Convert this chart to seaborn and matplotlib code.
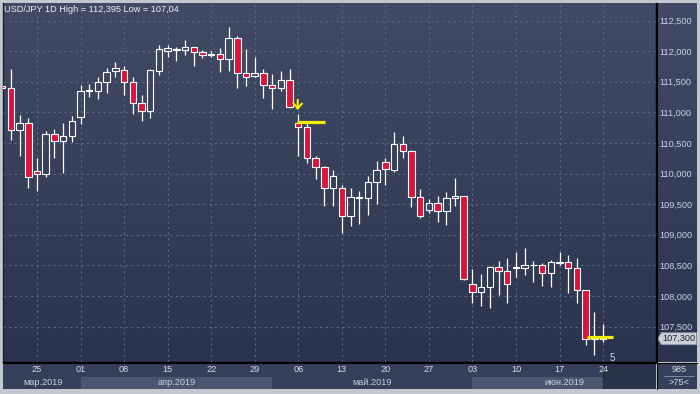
import numpy as np
import pandas as pd
import matplotlib
matplotlib.use("Agg")
import matplotlib.pyplot as plt
import matplotlib.transforms as mtransforms
from matplotlib.colors import LinearSegmentedColormap
from matplotlib.patches import Polygon, Rectangle
import seaborn as sns

# ---------------- data ----------------
dates = pd.bdate_range("2019-03-19", "2019-06-24")
opens = [111.43, 111.39, 110.71, 110.82, 110.04, 109.99, 110.64, 110.53, 110.62, 110.93,
         111.35, 111.34, 111.49, 111.67, 111.69, 111.49, 111.15, 111.02, 111.68, 112.00,
         112.04, 112.01, 112.06, 111.98, 111.94, 111.95, 111.87, 112.21, 111.64, 111.60,
         111.65, 111.44, 111.39, 111.52, 110.82, 110.76, 110.25, 110.10, 109.76, 109.77,
         109.31, 109.60, 109.60, 109.86, 110.18, 110.06, 110.49, 110.37, 109.61, 109.41,
         109.51, 109.38, 109.60, 109.63, 108.19, 108.07, 108.14, 108.47, 108.41, 108.46,
         108.45, 108.50, 108.50, 108.38, 108.54, 108.55, 108.45, 108.10, 107.29, 107.32]
highs = [111.45, 111.70, 110.96, 110.90, 110.25, 110.69, 110.73, 110.82, 110.94, 111.45,
         111.46, 111.58, 111.73, 111.82, 111.75, 111.58, 111.29, 111.70, 112.10, 112.10,
         112.07, 112.18, 112.07, 112.01, 112.00, 112.05, 112.395, 112.25, 112.03, 111.90,
         111.70, 111.63, 111.67, 111.70, 110.97, 110.82, 110.29, 110.12, 110.06, 109.81,
         109.77, 109.71, 109.96, 110.21, 110.26, 110.67, 110.61, 110.38, 109.75, 109.59,
         109.63, 109.69, 109.93, 109.64, 108.44, 108.36, 108.49, 108.57, 108.62, 108.71,
         108.79, 108.57, 108.53, 108.59, 108.72, 108.67, 108.62, 108.10, 107.74, 107.54]
lows = [111.37, 110.54, 110.29, 109.76, 109.72, 109.94, 110.25, 110.01, 110.52, 110.81,
        111.25, 111.22, 111.32, 111.57, 111.28, 110.98, 110.85, 110.90, 111.61, 111.90,
        111.84, 111.93, 111.76, 111.89, 111.90, 111.66, 111.68, 111.39, 111.43, 111.58,
        111.24, 111.06, 111.35, 111.07, 110.29, 110.17, 109.91, 109.47, 109.47, 109.02,
        109.15, 109.17, 109.33, 109.50, 109.81, 110.03, 110.25, 109.46, 109.28, 109.36,
        109.21, 109.16, 109.47, 108.26, 107.88, 107.84, 107.81, 108.01, 107.88, 108.31,
        108.34, 108.22, 108.16, 108.15, 108.50, 108.05, 107.89, 107.20, 107.04, 107.25]
closes = [111.39, 110.71, 110.82, 109.94, 109.99, 110.64, 110.53, 110.62, 110.86, 111.35,
          111.35, 111.49, 111.66, 111.72, 111.49, 111.15, 111.02, 111.69, 112.03, 112.05,
          112.01, 112.06, 111.98, 111.93, 111.94, 111.87, 112.21, 111.64, 111.58, 111.65,
          111.44, 111.39, 111.52, 111.09, 110.76, 110.25, 110.10, 109.76, 109.96, 109.31,
          109.61, 109.60, 109.86, 110.06, 110.07, 110.49, 110.37, 109.61, 109.31, 109.51,
          109.38, 109.60, 109.63, 108.27, 108.07, 108.14, 108.47, 108.40, 108.19, 108.46,
          108.51, 108.50, 108.38, 108.55, 108.54, 108.45, 108.09, 107.29, 107.33, 107.30]

price_ticks = [107.5, 108.0, 108.5, 109.0, 109.5, 110.0, 110.5, 111.0, 111.5, 112.0, 112.5]
price_labels = ["107,500", "108,000", "108,500", "109,000", "109,500", "110,000",
                "110,500", "111,000", "111,500", "112,000", "112,500"]
month_labels = ["мар.2019", "апр.2019", "май.2019", "июн.2019"]
title = "USD/JPY 1D High = 112,395 Low = 107,04"
last_price_label = "107,300"
signal_level = 110.84
current_level = 107.33

df = pd.DataFrame({"date": dates, "open": opens, "high": highs,
                   "low": lows, "close": closes})
df["i"] = np.arange(len(df))
df["up"] = df["close"] >= df["open"]

# ---------------- style ----------------
sns.set_theme(style="dark")
plt.rcParams["font.family"] = ["Liberation Sans", "DejaVu Sans"]

W, H = 700, 394
fig = plt.figure(figsize=(7.0, 3.94), dpi=100, facecolor="#c3c7cf")

def rect(x0, y0, x1, y1):
    return [x0 / W, 1 - y1 / H, (x1 - x0) / W, (y1 - y0) / H]

grad_cmap = LinearSegmentedColormap.from_list("bg", ["#2a344f", "#414b66"])
grad = np.linspace(0, 1, 256).reshape(-1, 1)

XMIN, XMAX = 0.095, 75.08
YMIN, YMAX = 106.92, 112.786

# right panel (behind main axes labels)
ax_r = fig.add_axes(rect(657, 3, 697, 362))
ax_r.set_zorder(0)
ax_r.imshow(grad, extent=[0, 1, 0, 1], transform=ax_r.transAxes, cmap=grad_cmap,
            aspect="auto", origin="lower", zorder=0)
ax_r.set_xlim(0, 1)
ax_r.set_ylim(YMIN, YMAX)
ax_r.axis("off")

ax = fig.add_axes(rect(3, 3, 656, 362))
ax.set_zorder(1)
ax.patch.set_alpha(0)
ax.imshow(grad, extent=[0, 1, 0, 1], transform=ax.transAxes, cmap=grad_cmap,
          aspect="auto", origin="lower", zorder=0)
ax.set_xlim(XMIN, XMAX)
ax.set_ylim(YMIN, YMAX)

mondays = df.index[df["date"].dt.dayofweek == 0].tolist()
ax.set_xticks(mondays)
ax.set_yticks(price_ticks)
ax.set_yticklabels(price_labels)
ax.yaxis.tick_right()
ax.tick_params(axis="y", length=0, pad=2.2, labelsize=6.6, labelcolor="#c9d2e4")
ax.tick_params(axis="x", length=0, labelbottom=False)
ax.grid(True, linestyle=(0, (2, 3)), color="#5a6683", linewidth=0.8)
ax.set_axisbelow(True)
ax.spines["top"].set_visible(False)
ax.spines["left"].set_color("#1a1f2c")
ax.spines["left"].set_linewidth(1.0)
ax.spines["right"].set_color("#000000")
ax.spines["right"].set_linewidth(1.0)
ax.spines["bottom"].set_color("#000000")
ax.spines["bottom"].set_linewidth(1.0)

# candles
body_w = 0.74
body_lo = np.minimum(df["open"], df["close"])
body_hi = np.maximum(df["open"], df["close"])
ax.vlines(df["i"], body_hi, df["high"], color="white", linewidth=0.9, zorder=3)
ax.vlines(df["i"], df["low"], body_lo, color="white", linewidth=0.9, zorder=3)
heights = np.maximum(body_hi - body_lo, 0.008)
face = np.where(df["up"], "none", "#dc143c")
ax.bar(df["i"], heights, bottom=body_lo, width=body_w, color=face,
       edgecolor="white", linewidth=0.8, zorder=4)

# yellow signal marks
sig_i = df.index[df["date"] == pd.Timestamp("2019-05-06")][0]
cur_i = df.index[df["date"] == pd.Timestamp("2019-06-21")][0]
ax.hlines(signal_level, sig_i - 0.14, sig_i + 3.07, color="#f2f000", linewidth=2.3, zorder=5)
ax.hlines(current_level, cur_i - 0.8, cur_i + 2.1, color="#f2f000", linewidth=2.3, zorder=5)
ax.annotate("", xy=(sig_i - 0.06, 110.99), xytext=(sig_i - 0.06, 111.25),
            arrowprops=dict(arrowstyle="->,head_width=0.25,head_length=0.3",
                            color="#f2f000", lw=1.5), zorder=6)
ax.text(len(df) + 0.1, 106.99, "5", color="#c9d6ee", fontsize=7, ha="center",
        va="center", zorder=6)

# price tag on the right panel
last_close = closes[-1]
hh = 0.098
blend_r = mtransforms.blended_transform_factory(ax_r.transAxes, ax_r.transData)
tag = Polygon([[0.02, last_close], [0.11, last_close + hh], [0.985, last_close + hh],
               [0.985, last_close - hh], [0.11, last_close - hh]],
              closed=True, transform=blend_r,
              fc="#ccd0d7", ec="#8e96a6", lw=0.6, zorder=5)
ax_r.add_patch(tag)
ax_r.text(0.55, last_close, last_price_label, transform=blend_r,
          ha="center", va="center", fontsize=6.6, color="#1d2230", zorder=6)

# ---------------- bottom strip ----------------
ax_b = fig.add_axes(rect(3, 363, 656, 389))
ax_b.set_xlim(XMIN, XMAX)
ax_b.set_ylim(0, 1)
ax_b.set_facecolor("#34405a")
ax_b.set_xticks([]); ax_b.set_yticks([])
for s in ax_b.spines.values():
    s.set_visible(False)

month_first = df.groupby(df["date"].dt.month)["i"].min().tolist()
last_i = len(df) - 1
for k, a in enumerate(month_first):
    if k % 2 == 1:
        end = month_first[k + 1] if k + 1 < len(month_first) else last_i
        ax_b.add_patch(Rectangle((a, 0), end - a, 0.46, fc="#4a5670", ec="none", zorder=1))
ax_b.add_patch(Rectangle((last_i, 0), XMAX - last_i, 1, fc="#283249", ec="none", zorder=1))
ax_b.axvline(last_i, color="#1e2536", lw=0.6, zorder=2)

for m in mondays:
    ax_b.text(m, 0.76, df.loc[m, "date"].strftime("%d"), ha="center", va="center",
              fontsize=6.6, color="#d6dbe6", zorder=3)
month_centers = []
for k, a in enumerate(month_first):
    lo = a - 0.5 if k == 0 else a
    hi = month_first[k + 1] if k + 1 < len(month_first) else XMAX
    month_centers.append((lo + hi) / 2 + (0.5 if k == 0 else 0))
for c, lab in zip(month_centers, month_labels):
    ax_b.text(c, 0.25, lab, ha="center", va="center", fontsize=6.6,
              color="#c8d0e0", zorder=3)

# corner panel
ax_c = fig.add_axes(rect(657, 363, 697, 389))
ax_c.set_facecolor("#34405a")
ax_c.set_xlim(0, 1); ax_c.set_ylim(0, 1)
ax_c.set_xticks([]); ax_c.set_yticks([])
for s in ax_c.spines.values():
    s.set_visible(False)
ax_c.text(0.55, 0.76, "985", ha="center", va="center", fontsize=6.6, color="#d6dbe6")
ax_c.plot([0.18, 0.92], [0.5, 0.5], color="#8a94a8", lw=0.6)
ax_c.text(0.55, 0.25, ">75<", ha="center", va="center", fontsize=6.6, color="#d6dbe6")

# separators
fig.add_artist(plt.Line2D([656.5 / W, 656.5 / W], [1 - 389 / H, 1 - 3 / H],
                          color="black", lw=0.8, transform=fig.transFigure))
fig.add_artist(plt.Line2D([3 / W, 697 / W], [1 - 362.6 / H, 1 - 362.6 / H],
                          color="black", lw=0.8, transform=fig.transFigure))

# title
fig.text(4 / W, 1 - 9.5 / H, title, ha="left", va="center", fontsize=6.6,
         color="#eef0f4", zorder=10)

fig.savefig("out.png", dpi=100, facecolor=fig.get_facecolor())
